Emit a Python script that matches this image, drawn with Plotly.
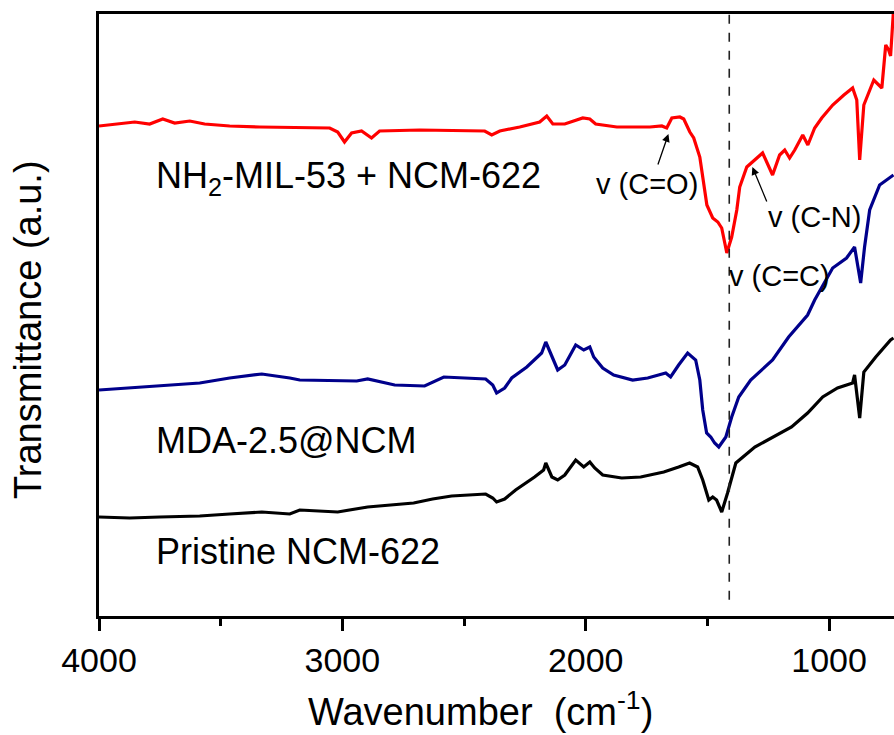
import plotly.graph_objects as go

# ---- data (wavenumber in cm-1, transmittance in arbitrary units) ----
red_wn = [4000, 3915, 3853, 3792, 3738, 3689, 3627, 3566, 3463, 3340, 3175, 3052, 3019, 2991, 2962, 2921,
          2880, 2847, 2682, 2518, 2415, 2386, 2353, 2271, 2189, 2160, 2135, 2086, 2032, 2012, 1983, 1959,
          1872, 1736, 1687, 1667, 1646, 1613, 1597, 1572, 1556, 1531, 1502, 1478, 1457, 1441, 1420, 1400,
          1379, 1367, 1338, 1305, 1273, 1232, 1203, 1182, 1162, 1141, 1108, 1087, 1059, 1030, 985, 939,
          903, 886, 874, 857, 816, 783, 767, 755, 747, 735]
red_val = [490, 492, 494, 492, 497, 493, 495, 492, 490, 489, 488, 488, 484, 474, 483, 485,
           478, 485, 486, 485, 485, 481, 485, 489, 494, 500, 492, 492, 496, 498, 497, 492,
           489, 489, 490, 488, 498, 499, 497, 484, 478, 459, 411, 398, 394, 388, 363, 379,
           406, 429, 449, 456, 463, 441, 461, 466, 458, 466, 481, 471, 488, 498, 511, 521,
           528, 516, 456, 511, 536, 528, 571, 566, 560, 606]

blue_wn = [4000, 3874, 3750, 3586, 3463, 3331, 3216, 3175, 2941, 2896, 2785, 2662, 2583, 2411, 2382, 2366,
           2333, 2304, 2242, 2181, 2164, 2139, 2115, 2086, 2053, 2041, 2008, 1983, 1967, 1930, 1885, 1807,
           1745, 1671, 1651, 1618, 1581, 1548, 1531, 1519, 1503, 1486, 1470, 1453, 1424, 1400, 1371, 1322,
           1232, 1166, 1088, 1059, 985, 928, 895, 870, 854, 833, 792, 735]
blue_val = [226, 228, 230, 233, 238, 242, 238, 236, 235, 237, 231, 230, 239, 237, 231, 223,
            228, 238, 249, 263, 274, 259, 246, 251, 266, 271, 266, 269, 259, 248, 241, 236,
            238, 243, 239, 251, 263, 256, 236, 206, 183, 179, 173, 169, 179, 199, 219, 236,
            256, 279, 301, 316, 348, 358, 369, 333, 369, 406, 431, 441]

black_wn = [4000, 3874, 3750, 3586, 3463, 3331, 3216, 3175, 3019, 2896, 2707, 2629, 2551, 2411, 2382, 2366,
            2333, 2288, 2210, 2173, 2164, 2139, 2115, 2086, 2041, 2008, 1983, 1963, 1930, 1852, 1774, 1679,
            1618, 1573, 1540, 1519, 1494, 1478, 1462, 1441, 1417, 1383, 1305, 1198, 1154, 1088, 1026, 965,
            903, 895, 874, 857, 808, 747, 735]
black_val = [99, 98, 99, 100, 102, 104, 102, 106, 104, 109, 113, 117, 120, 122, 118, 114,
             117, 126, 139, 146, 153, 139, 136, 141, 156, 149, 154, 148, 141, 138, 139, 144,
             149, 153, 149, 136, 116, 119, 116, 104, 123, 153, 169, 183, 189, 203, 219, 228,
             233, 241, 198, 244, 259, 276, 278]

series_names = ["NH<sub>2</sub>-MIL-53 + NCM-622", "MDA-2.5@NCM", "Pristine NCM-622"]
x_ticks = [4000, 3000, 2000, 1000]
marker_wn = 1410

FONT = "Liberation Sans, Arial, sans-serif"

fig = go.Figure()
fig.add_trace(go.Scatter(x=red_wn, y=red_val, mode="lines", line=dict(color="#ff0000", width=3.2),
                         name=series_names[0], showlegend=False))
fig.add_trace(go.Scatter(x=blue_wn, y=blue_val, mode="lines", line=dict(color="#00008b", width=3.2),
                         name=series_names[1], showlegend=False))
fig.add_trace(go.Scatter(x=black_wn, y=black_val, mode="lines", line=dict(color="#000000", width=3.2),
                         name=series_names[2], showlegend=False))

fig.add_shape(type="line", xref="x", yref="paper", x0=marker_wn, x1=marker_wn, y0=0.027, y1=1,
              line=dict(color="#222222", width=1.6, dash="dash"))

ann = []
# series labels
ann.append(dict(x=3775, y=438, text=series_names[0], xanchor="left", yanchor="middle", showarrow=False,
                font=dict(size=36, color="black", family=FONT)))
ann.append(dict(x=3775, y=176, text=series_names[1], xanchor="left", yanchor="middle", showarrow=False,
                font=dict(size=36, color="black", family=FONT)))
ann.append(dict(x=3775, y=65, text=series_names[2], xanchor="left", yanchor="middle", showarrow=False,
                font=dict(size=36, color="black", family=FONT)))
# band labels
ann.append(dict(x=1749, y=432, text="v (C=O)", xanchor="center", yanchor="middle", showarrow=False,
                font=dict(size=29, color="black", family=FONT)))
ann.append(dict(x=1058, y=399, text="v (C-N)", xanchor="center", yanchor="middle", showarrow=False,
                font=dict(size=29, color="black", family=FONT)))
ann.append(dict(x=1202, y=340, text="v (C=C)", xanchor="center", yanchor="middle", showarrow=False,
                font=dict(size=29, color="black", family=FONT)))
# arrows
ann.append(dict(x=1660, y=482, ax=-11, ay=32, text="", showarrow=True, arrowhead=2, arrowsize=1.2,
                arrowwidth=1.3, arrowcolor="black"))
ann.append(dict(x=1315, y=449, ax=15, ay=36, text="", showarrow=True, arrowhead=2, arrowsize=1.2,
                arrowwidth=1.3, arrowcolor="black"))
# axis titles
ann.append(dict(xref="paper", yref="paper", x=(480 - 99) / 795, y=-(709 - 616) / 602,
                text="Wavenumber\u00a0 (cm<sup>-1</sup>)", showarrow=False, xanchor="center", yanchor="middle",
                font=dict(size=38, color="black", family=FONT)))
ann.append(dict(xref="paper", yref="paper", x=-(99 - 28) / 795, y=(616 - 330) / 602,
                text="Transmittance (a.u.)", textangle=-90, showarrow=False, xanchor="center", yanchor="middle",
                font=dict(size=38, color="black", family=FONT)))

fig.update_layout(
    width=894, height=735,
    margin=dict(l=99, r=0, t=14, b=119),
    paper_bgcolor="white", plot_bgcolor="white",
    annotations=ann,
    font=dict(family=FONT, color="black"),
)
fig.update_xaxes(range=[4000, 733], tickvals=x_ticks, ticktext=[str(v) for v in x_ticks],
                 showline=True, linecolor="black", linewidth=2.5, mirror=True,
                 ticks="outside", ticklen=12, tickwidth=2.5, tickcolor="black",
                 minor=dict(dtick=500, ticks="outside", ticklen=7, tickwidth=2.5, tickcolor="black"),
                 showgrid=False, zeroline=False, tickfont=dict(size=34, family=FONT, color="black"))
fig.update_yaxes(range=[0, 602], showline=True, linecolor="black", linewidth=2.5, mirror=False,
                 ticks="", showticklabels=False, showgrid=False, zeroline=False)

fig.write_html("out.html", config={"displayModeBar": False},
               post_script="document.body.style.margin='0';document.body.style.padding='0';"
                           "document.body.style.overflow='hidden';")
